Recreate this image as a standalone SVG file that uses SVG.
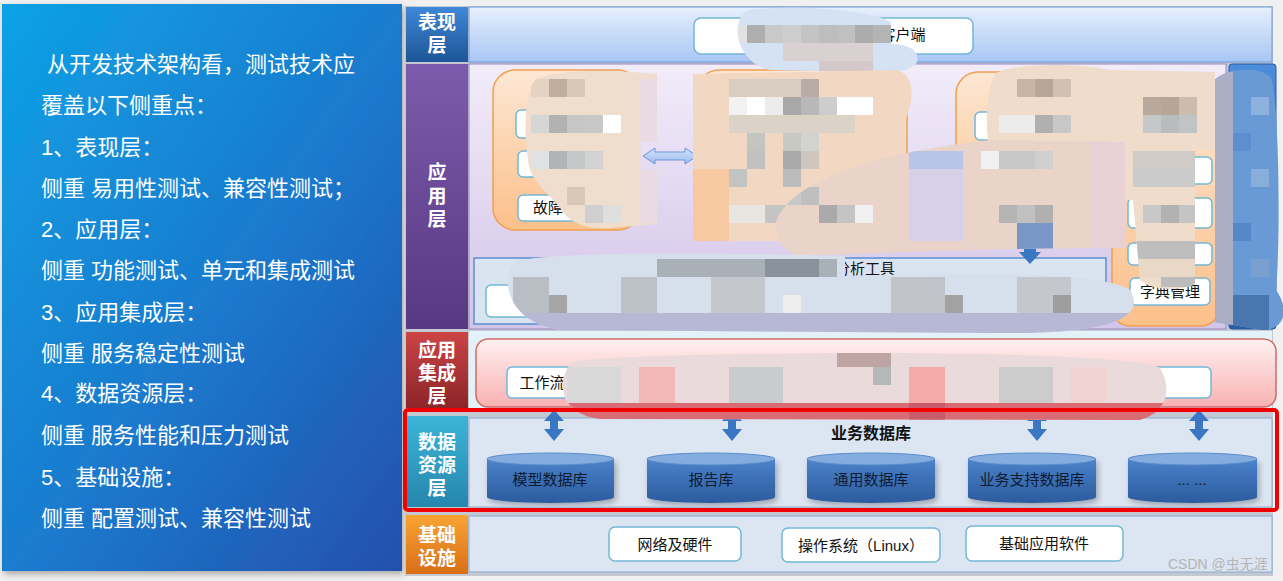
<svg xmlns="http://www.w3.org/2000/svg" width="1283" height="581" viewBox="0 0 1283 581">
<defs>
<linearGradient id="gLeft" x1="0" y1="0" x2="1" y2="1"><stop offset="0" stop-color="#0ea2e6"/><stop offset="0.55" stop-color="#1b78cc"/><stop offset="1" stop-color="#2450ad"/></linearGradient>
<linearGradient id="gTop" x1="0" y1="0" x2="0" y2="1"><stop offset="0" stop-color="#e6f0fd"/><stop offset="1" stop-color="#a8c6f4"/></linearGradient>
<linearGradient id="gApp" x1="0" y1="0" x2="0" y2="1"><stop offset="0" stop-color="#f2ecf9"/><stop offset="1" stop-color="#d3c4e9"/></linearGradient>
<linearGradient id="gOr" x1="0" y1="0" x2="0" y2="1"><stop offset="0" stop-color="#fde7d4"/><stop offset="1" stop-color="#fcc08a"/></linearGradient>
<linearGradient id="gBar" x1="0" y1="0" x2="0" y2="1"><stop offset="0" stop-color="#4c8ddb"/><stop offset="1" stop-color="#2a5fa8"/></linearGradient>
<linearGradient id="gPink" x1="0" y1="0" x2="0" y2="1"><stop offset="0" stop-color="#fff0f0"/><stop offset="1" stop-color="#f8b2b2"/></linearGradient>
<linearGradient id="gCyl" x1="0" y1="0" x2="0" y2="1"><stop offset="0" stop-color="#4b82ca"/><stop offset="1" stop-color="#2b5b9e"/></linearGradient>
<linearGradient id="gDArr" x1="0" y1="0" x2="0" y2="1"><stop offset="0" stop-color="#d4e3fb"/><stop offset="1" stop-color="#9dbcef"/></linearGradient>
<linearGradient id="lBlue" x1="0" y1="0" x2="0" y2="1"><stop offset="0" stop-color="#3f88d8"/><stop offset="1" stop-color="#1d5597"/></linearGradient>
<linearGradient id="lPur" x1="0" y1="0" x2="0" y2="1"><stop offset="0" stop-color="#7d5bac"/><stop offset="1" stop-color="#573882"/></linearGradient>
<linearGradient id="lRed" x1="0" y1="0" x2="0" y2="1"><stop offset="0" stop-color="#cc4446"/><stop offset="1" stop-color="#8c2528"/></linearGradient>
<linearGradient id="lTeal" x1="0" y1="0" x2="0" y2="1"><stop offset="0" stop-color="#3cb5d8"/><stop offset="1" stop-color="#2786ad"/></linearGradient>
<linearGradient id="lOr" x1="0" y1="0" x2="0" y2="1"><stop offset="0" stop-color="#f8a433"/><stop offset="1" stop-color="#d96e18"/></linearGradient>
<filter id="sh" x="-5%" y="-5%" width="110%" height="110%"><feDropShadow dx="2" dy="3" stdDeviation="3" flood-color="#000" flood-opacity="0.3"/></filter>
<clipPath id="cA"><path d="M535 80 C555 68 620 70 657 74 L657 142 L641 142 L641 170 L657 170 L657 224 L610 228 C585 230 568 222 560 208 C548 192 530 182 528 160 C524 130 524 95 535 80 Z"/></clipPath>
<clipPath id="cB"><path d="M693 74 L895 70 C915 72 915 100 905 120 L905 241 L693 241 Z"/></clipPath>
<clipPath id="cT"><path d="M748 10 C800 4 870 10 891 22 L891 44 C910 44 922 52 916 64 C905 74 880 74 860 72 L770 70 C738 64 728 22 748 10 Z"/></clipPath>
<clipPath id="cS"><path d="M776 222 C790 180 880 152 990 140 L1125 142 L1125 248 C1000 248 900 252 800 256 C785 252 774 240 776 222 Z"/></clipPath>
<clipPath id="cR"><path d="M995 74 C1010 64 1070 62 1110 70 L1215 72 L1215 150 L1195 150 L1195 284 C1180 292 1150 290 1140 280 L1133 200 L1000 200 C985 150 982 100 995 74 Z"/></clipPath>
<clipPath id="cV"><path d="M1215 80 C1225 68 1265 65 1272 80 C1280 120 1280 250 1276 290 C1290 310 1285 330 1262 330 L1215 322 Z"/></clipPath>
<clipPath id="cD"><path d="M515 262 C540 252 700 252 845 256 L845 276 C950 272 1100 270 1130 290 C1145 315 1120 334 1000 333 L560 330 C505 322 500 275 515 262 Z"/></clipPath>
<clipPath id="cE"><path d="M572 362 C600 352 1120 346 1160 368 C1172 388 1168 412 1140 420 L600 419 C565 416 552 385 572 362 Z"/></clipPath>
</defs>
<style>
.cjk{font-family:'Liberation Sans','Noto Sans CJK SC',sans-serif}
.lt{fill:#fff;font-size:22px}
.lab{fill:#fff;font-size:19px;font-weight:bold;text-anchor:middle}
.wb{fill:#fff;stroke:#72b8d6;stroke-width:1.5}
.bt{fill:#111;font-size:15px;text-anchor:middle}
.ob{fill:url(#gOr);stroke:#f0a050;stroke-width:1.5}
.cyt{fill:#0d1a33;font-size:15px;text-anchor:middle}
.arr{fill:#3a76c2}
</style>
<rect x="0" y="0" width="1283" height="581" fill="#f0f0f0"/>

<g id="left-panel">
<rect x="2" y="4" width="400" height="567" fill="url(#gLeft)" filter="url(#sh)"/>
<g class="cjk lt">
<text x="47" y="72">从开发技术架构看，测试技术应</text>
<text x="41" y="113">覆盖以下侧重点：</text>
<text x="41" y="155">1、表现层：</text>
<text x="41" y="196">侧重 易用性测试、兼容性测试；</text>
<text x="41" y="237">2、应用层：</text>
<text x="41" y="278">侧重 功能测试、单元和集成测试</text>
<text x="41" y="320">3、应用集成层：</text>
<text x="41" y="361">侧重 服务稳定性测试</text>
<text x="41" y="401">4、数据资源层：</text>
<text x="41" y="443">侧重 服务性能和压力测试</text>
<text x="41" y="485">5、基础设施：</text>
<text x="41" y="526">侧重 配置测试、兼容性测试</text>
</g>
</g>

<rect x="405" y="6" width="868" height="570" fill="#c3c8d2"/>

<g id="layer-presentation">
<rect x="406" y="7" width="62" height="55" fill="url(#lBlue)"/>
<text class="cjk lab" x="437" y="29">表现</text>
<text class="cjk lab" x="437" y="52">层</text>
<rect x="469" y="7" width="803" height="55" fill="url(#gTop)" stroke="#6d9ad8"/>
<rect class="wb" x="694" y="18" width="279" height="36" rx="7"/>
<text class="cjk bt" x="903" y="40">客户端</text>
</g>

<g id="layer-application">
<rect x="406" y="64" width="62" height="265" fill="url(#lPur)"/>
<text class="cjk lab" x="437" y="179">应</text>
<text class="cjk lab" x="437" y="203">用</text>
<text class="cjk lab" x="437" y="226">层</text>
<rect x="469" y="64" width="757" height="265" fill="url(#gApp)" stroke="#9a86c0"/>
<rect x="1229" y="64" width="47" height="265" rx="3" fill="url(#gBar)" stroke="#2a5aa0"/>
</g>

<g id="box1">
<rect class="ob" x="493" y="70" width="147" height="160" rx="22"/>
<rect class="wb" x="516" y="110" width="104" height="28" rx="5"/>
<rect class="wb" x="518" y="151" width="106" height="26" rx="5"/>
<rect class="wb" x="518" y="195" width="112" height="26" rx="5"/>
<text class="cjk bt" x="548" y="213">故障</text>
</g>
<g id="box2">
<rect class="ob" x="697" y="70" width="210" height="168" rx="22"/>
<rect x="733" y="120" width="147" height="95" fill="none" stroke="#6a8fd0" stroke-width="1.5"/>
<rect class="wb" x="844" y="126" width="23" height="17" rx="3"/>
<text class="cjk bt" x="855" y="139" style="font-size:13px">物</text>
<rect class="wb" x="797" y="187" width="25" height="10" rx="3"/>
<rect class="wb" x="733" y="212" width="100" height="20" rx="4"/>
</g>
<g id="box3">
<rect class="ob" x="956" y="72" width="140" height="162" rx="22"/>
<rect class="wb" x="975" y="112" width="90" height="28" rx="5"/>
<rect class="wb" x="975" y="153" width="108" height="27" rx="5"/>
<rect class="wb" x="975" y="205" width="95" height="22" rx="5"/>
</g>
<g id="box4">
<rect class="ob" x="1112" y="73" width="107" height="253" rx="18"/>
<rect class="wb" x="1128" y="157" width="84" height="27" rx="5"/>
<rect class="wb" x="1128" y="198" width="84" height="30" rx="5"/>
<rect class="wb" x="1128" y="243" width="84" height="22" rx="5"/>
<rect class="wb" x="1130" y="278" width="80" height="27" rx="5"/>
<text class="cjk bt" x="1170" y="297">字典管理</text>
</g>
<g id="analysis">
<rect x="474" y="258" width="632" height="66" fill="#dae4f1" stroke="#5b8fd0" stroke-width="1.5"/>
<text class="cjk" x="895" y="274" style="fill:#111;font-size:15px;text-anchor:end">分析工具</text>
<rect class="wb" x="486" y="285" width="212" height="32" rx="5"/>
<rect class="wb" x="755" y="285" width="190" height="32" rx="5"/>
</g>

<g id="layer-integration">
<rect x="406" y="332" width="62" height="76" fill="url(#lRed)"/>
<text class="cjk lab" x="437" y="357">应用</text>
<text class="cjk lab" x="437" y="380">集成</text>
<text class="cjk lab" x="437" y="403">层</text>
<rect x="469" y="331" width="803" height="78" fill="#e2f2f8"/>
<rect x="476" y="339" width="800" height="68" rx="12" fill="url(#gPink)" stroke="#d06a6a" stroke-width="1.5"/>
<rect class="wb" x="507" y="367" width="120" height="31" rx="5"/>
<text class="cjk bt" x="542" y="388">工作流</text>
<rect class="wb" x="1090" y="367" width="121" height="31" rx="5"/>
</g>

<g id="layer-data">
<rect x="406" y="416" width="62" height="91" fill="url(#lTeal)"/>
<text class="cjk lab" x="437" y="449">数据</text>
<text class="cjk lab" x="437" y="472">资源</text>
<text class="cjk lab" x="437" y="495">层</text>
<rect x="469" y="418" width="803" height="89" fill="#dce6f2" stroke="#8aaad0"/>
<text class="cjk" x="871" y="439" style="font-size:16px;font-weight:bold;fill:#111;text-anchor:middle">业务数据库</text>
</g>

<g id="databases">
<g id="db1"><path d="M487 459 V497 A63.5 6 0 0 0 614 497 V459 Z" fill="url(#gCyl)" filter="url(#sh)"/><ellipse cx="550.5" cy="459" rx="63.5" ry="6" fill="#85acdf" stroke="#5a8ccc"/><text class="cjk cyt" x="550" y="485">模型数据库</text></g>
<g id="db2"><path d="M647 459 V497 A64 6 0 0 0 775 497 V459 Z" fill="url(#gCyl)" filter="url(#sh)"/><ellipse cx="711" cy="459" rx="64" ry="6" fill="#85acdf" stroke="#5a8ccc"/><text class="cjk cyt" x="711" y="485">报告库</text></g>
<g id="db3"><path d="M807 459 V497 A64 6 0 0 0 935 497 V459 Z" fill="url(#gCyl)" filter="url(#sh)"/><ellipse cx="871" cy="459" rx="64" ry="6" fill="#85acdf" stroke="#5a8ccc"/><text class="cjk cyt" x="871" y="485">通用数据库</text></g>
<g id="db4"><path d="M968 459 V497 A64 6 0 0 0 1096 497 V459 Z" fill="url(#gCyl)" filter="url(#sh)"/><ellipse cx="1032" cy="459" rx="64" ry="6" fill="#85acdf" stroke="#5a8ccc"/><text class="cjk cyt" x="1032" y="485">业务支持数据库</text></g>
<g id="db5"><path d="M1128 459 V497 A64.5 6 0 0 0 1257 497 V459 Z" fill="url(#gCyl)" filter="url(#sh)"/><ellipse cx="1192.5" cy="459" rx="64.5" ry="6" fill="#85acdf" stroke="#5a8ccc"/><text class="cjk cyt" x="1192" y="485">... ...</text></g>
</g>

<g id="layer-infra">
<rect x="406" y="515" width="62" height="59" fill="url(#lOr)"/>
<text class="cjk lab" x="437" y="542">基础</text>
<text class="cjk lab" x="437" y="565">设施</text>
<rect x="469" y="516" width="803" height="56" fill="#dce6f2" stroke="#8aaad0"/>
<rect class="wb" x="609" y="527" width="132" height="34" rx="6"/>
<text class="cjk bt" x="675" y="550">网络及硬件</text>
<rect class="wb" x="782" y="528" width="158" height="34" rx="6"/>
<text class="cjk bt" x="861" y="551">操作系统（Linux）</text>
<rect class="wb" x="966" y="526" width="157" height="35" rx="6"/>
<text class="cjk bt" x="1044" y="549">基础应用软件</text>
</g>

<g id="connectors">
<path d="M643 156 L655 148 V152 H685 V148 L697 156 L685 164 V160 H655 V164 Z" fill="url(#gDArr)" stroke="#6a95d8"/>
<path class="arr" d="M1024 232 H1036 V252 H1041 L1030 264 L1019 252 H1024 Z"/>
<path class="arr" d="M554 410 L564 421 H558 V429 H564 L554 441 L544 429 H550 V421 H544 Z"/>
<path class="arr" d="M732 410 L742 421 H736 V429 H742 L732 441 L722 429 H728 V421 H722 Z"/>
<path class="arr" d="M1037 410 L1047 421 H1041 V429 H1047 L1037 441 L1027 429 H1033 V421 H1027 Z"/>
<path class="arr" d="M1199 410 L1209 421 H1203 V429 H1209 L1199 441 L1189 429 H1195 V421 H1189 Z"/>
</g>

<g id="mosaic">
<g clip-path="url(#cT)">
<rect x="728" y="4" width="200" height="75" fill="#d5e2f3"/>
<rect x="729" y="25" width="18" height="18" fill="#e2e2e2"/><rect x="747" y="25" width="18" height="18" fill="#aeaeae"/><rect x="765" y="25" width="18" height="18" fill="#c9c9c9"/><rect x="783" y="25" width="18" height="18" fill="#cecece"/><rect x="801" y="25" width="18" height="18" fill="#c4c4c4"/><rect x="819" y="25" width="18" height="18" fill="#bdbdbd"/><rect x="837" y="25" width="18" height="18" fill="#c0c0c0"/><rect x="855" y="25" width="18" height="18" fill="#acacac"/><rect x="873" y="25" width="18" height="18" fill="#b4b4b4"/>
<rect x="783" y="43" width="90" height="18" fill="#d9d0d2"/><rect x="819" y="61" width="54" height="18" fill="#d4c8c8"/>
</g>
<g clip-path="url(#cA)">
<rect x="520" y="66" width="140" height="170" fill="#efdecd"/>
<rect x="549" y="79" width="18" height="18" fill="#c1ad9e"/><rect x="567" y="79" width="18" height="18" fill="#d9c8b7"/><rect x="531" y="79" width="18" height="18" fill="#e4d3c2"/>
<rect x="531" y="115" width="18" height="18" fill="#d6d6d4"/><rect x="549" y="115" width="18" height="18" fill="#b2b2b2"/><rect x="567" y="115" width="18" height="18" fill="#c6c6c6"/><rect x="585" y="115" width="18" height="18" fill="#c8c8c8"/><rect x="603" y="115" width="18" height="18" fill="#ffffff"/>
<rect x="531" y="151" width="18" height="18" fill="#dfe2e2"/><rect x="549" y="151" width="18" height="18" fill="#b0b4b4"/><rect x="567" y="151" width="18" height="18" fill="#c4c8c8"/><rect x="585" y="151" width="18" height="18" fill="#d2d2d0"/>
<rect x="567" y="187" width="18" height="18" fill="#d8c8b8"/><rect x="585" y="205" width="18" height="18" fill="#cfcfcf"/><rect x="603" y="205" width="18" height="18" fill="#dedede"/>
<rect x="639" y="79" width="20" height="144" fill="#eadbe2"/>
</g>
<g clip-path="url(#cB)">
<rect x="690" y="66" width="225" height="180" fill="#f2d8c2"/>
<rect x="729" y="79" width="90" height="18" fill="#d9cdc2"/><rect x="801" y="79" width="18" height="18" fill="#b9aca6"/>
<rect x="729" y="97" width="18" height="18" fill="#f2f2f2"/><rect x="747" y="97" width="18" height="18" fill="#ffffff"/><rect x="765" y="97" width="18" height="18" fill="#ececec"/><rect x="783" y="97" width="18" height="18" fill="#a9a9a9"/><rect x="801" y="97" width="18" height="18" fill="#b8b8b8"/><rect x="819" y="97" width="18" height="18" fill="#cdcdcd"/><rect x="837" y="97" width="36" height="18" fill="#ffffff"/>
<rect x="729" y="115" width="126" height="18" fill="#dcd3c8"/>
<rect x="747" y="133" width="18" height="18" fill="#c4c4c0"/><rect x="783" y="133" width="18" height="18" fill="#c8c8c4"/><rect x="801" y="133" width="18" height="18" fill="#d2d2d0"/>
<rect x="747" y="151" width="18" height="18" fill="#c0c0c0"/><rect x="783" y="151" width="18" height="18" fill="#aaaaaa"/><rect x="801" y="151" width="18" height="18" fill="#cfc6be"/>
<rect x="729" y="169" width="18" height="18" fill="#c2c4c2"/><rect x="783" y="169" width="18" height="18" fill="#bcbcbc"/>
<rect x="729" y="205" width="36" height="18" fill="#e8e6e0"/><rect x="765" y="205" width="36" height="18" fill="#c4c4c2"/>
<rect x="693" y="169" width="36" height="72" fill="#f6c9a2"/>
</g>
<g clip-path="url(#cR)">
<rect x="980" y="60" width="250" height="280" fill="#efdccb"/>
<rect x="1017" y="79" width="18" height="18" fill="#c9b5a6"/><rect x="1035" y="79" width="18" height="18" fill="#b8a698"/><rect x="1053" y="79" width="18" height="18" fill="#d2c0b2"/>
<rect x="1143" y="97" width="18" height="18" fill="#b9a99c"/><rect x="1161" y="97" width="18" height="18" fill="#b6a698"/><rect x="1179" y="97" width="18" height="18" fill="#ccbcae"/>
<rect x="999" y="115" width="54" height="18" fill="#ececec"/><rect x="1035" y="115" width="18" height="18" fill="#b0b0b0"/><rect x="1053" y="115" width="18" height="18" fill="#c8c8c8"/>
<rect x="1143" y="115" width="18" height="18" fill="#c4c8c8"/><rect x="1161" y="115" width="18" height="18" fill="#b8bcbc"/><rect x="1179" y="115" width="18" height="18" fill="#c0c4c4"/>
<rect x="1133" y="151" width="64" height="18" fill="#d0cbc6"/><rect x="1133" y="169" width="64" height="18" fill="#cbcbcb"/>
<rect x="1143" y="205" width="18" height="18" fill="#c8c8c8"/><rect x="1161" y="205" width="18" height="18" fill="#b2b2b2"/><rect x="1179" y="205" width="18" height="18" fill="#c4c4c4"/>
<rect x="1133" y="241" width="64" height="18" fill="#bebebe"/><rect x="1133" y="259" width="64" height="18" fill="#ead8c6"/><rect x="1161" y="277" width="36" height="10" fill="#bcbcbc"/>
</g>
<g clip-path="url(#cS)">
<rect x="770" y="130" width="360" height="130" fill="#ead3c8"/>
<rect x="909" y="151" width="54" height="90" fill="#d8cfe8"/><rect x="909" y="151" width="54" height="18" fill="#b8c4e8"/>
<rect x="783" y="187" width="18" height="18" fill="#c8c8c8"/><rect x="801" y="187" width="18" height="18" fill="#bfbfbf"/><rect x="819" y="205" width="18" height="18" fill="#aaaaaa"/><rect x="837" y="205" width="18" height="18" fill="#c4c4c4"/><rect x="855" y="205" width="18" height="18" fill="#f0f0f0"/>
<rect x="981" y="151" width="18" height="18" fill="#f0f0f0"/><rect x="999" y="151" width="36" height="18" fill="#c8c8c8"/><rect x="1035" y="151" width="18" height="18" fill="#d0d0d0"/>
<rect x="999" y="205" width="18" height="18" fill="#b4b4b4"/><rect x="1017" y="205" width="18" height="18" fill="#c0c0c0"/><rect x="1035" y="205" width="18" height="18" fill="#b0b0b0"/>
<rect x="1017" y="223" width="36" height="36" fill="#7896c8"/>
<rect x="1089" y="142" width="36" height="110" fill="#e8d0d4"/>
</g>
<g clip-path="url(#cV)">
<rect x="1210" y="60" width="80" height="280" fill="#6a9ad6"/>
<rect x="1215" y="60" width="18" height="280" fill="#acaec6"/>
<rect x="1251" y="97" width="18" height="18" fill="#8eb2e0"/><rect x="1233" y="133" width="18" height="18" fill="#5e8ed0"/><rect x="1251" y="169" width="18" height="18" fill="#8aaedc"/><rect x="1233" y="223" width="18" height="18" fill="#5588c8"/><rect x="1251" y="259" width="18" height="18" fill="#7aa0d0"/><rect x="1233" y="295" width="36" height="36" fill="#4a76b0"/>
</g>
<g clip-path="url(#cD)">
<rect x="500" y="245" width="650" height="95" fill="#d5e0ec"/>
<rect x="657" y="259" width="180" height="18" fill="#a9b0b8"/><rect x="765" y="259" width="54" height="18" fill="#8a929c"/>
<rect x="513" y="277" width="36" height="36" fill="#b8bec4"/><rect x="549" y="295" width="18" height="18" fill="#a6a6a6"/><rect x="621" y="277" width="36" height="36" fill="#bcc2c8"/>
<rect x="711" y="277" width="54" height="36" fill="#c4c8cc"/><rect x="783" y="295" width="18" height="18" fill="#ededed"/>
<rect x="891" y="277" width="54" height="36" fill="#c0c4c8"/><rect x="945" y="295" width="18" height="18" fill="#a2a2a2"/>
<rect x="1017" y="277" width="54" height="36" fill="#c4c8cc"/><rect x="1053" y="295" width="18" height="18" fill="#9e9e9e"/>
<rect x="500" y="313" width="650" height="25" fill="#b6b8d4"/>
</g>
<g clip-path="url(#cE)">
<rect x="550" y="344" width="625" height="80" fill="#eadadc"/>
<rect x="837" y="349" width="54" height="18" fill="#bfa4a4"/>
<rect x="567" y="367" width="54" height="36" fill="#d8d8d8"/><rect x="639" y="367" width="36" height="36" fill="#f2b8b8"/><rect x="729" y="367" width="54" height="36" fill="#c8cccc"/><rect x="873" y="367" width="18" height="18" fill="#b4b8b8"/><rect x="909" y="367" width="36" height="36" fill="#f5aaaa"/><rect x="999" y="367" width="54" height="36" fill="#cccccc"/><rect x="1071" y="367" width="36" height="36" fill="#f0d4d4"/>
<rect x="550" y="403" width="625" height="22" fill="#d86b73"/><rect x="909" y="403" width="36" height="18" fill="#c95c6c"/>
</g>
</g>

<rect id="focus" x="405" y="410" width="872" height="100" rx="3" fill="none" stroke="#f20000" stroke-width="4"/>
<text class="cjk" x="1168" y="569" style="font-size:14px;fill:#b4b4b4">CSDN @虫无涯</text>
</svg>
